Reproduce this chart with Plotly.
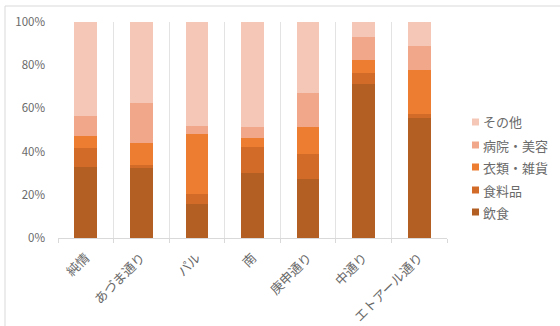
import plotly.graph_objects as go

categories = ["純情", "あづま通り", "パル", "南", "庚申通り", "中通り", "エトアール通り"]
series_names = ["飲食", "食料品", "衣類・雑貨", "病院・美容", "その他"]
inshoku = [32.9, 32.4, 15.6, 30.1, 27.2, 71.2, 55.7]
shokuryohin = [8.8, 1.3, 5.0, 11.9, 11.7, 5.2, 1.7]
irui = [5.4, 10.5, 27.4, 4.5, 12.5, 6.2, 20.4]
byoin = [9.2, 18.2, 4.0, 5.1, 15.9, 10.5, 11.1]
sonota = [43.7, 37.6, 48.0, 48.4, 32.7, 6.9, 11.1]
values = [inshoku, shokuryohin, irui, byoin, sonota]
colors = ["#B35E22", "#D26B28", "#ED7D31", "#F1A88A", "#F4C7B7"]
y_ticks = [0, 20, 40, 60, 80, 100]
y_tick_labels = ["0%", "20%", "40%", "60%", "80%", "100%"]

font_family = "Noto Sans CJK JP, Noto Sans, sans-serif"
gray = "#6a6a6a"

fig = go.Figure()
for name, vals, col in zip(series_names, values, colors):
    fig.add_trace(go.Bar(x=categories, y=vals, name=name, marker=dict(color=col, line=dict(width=0)),
                         showlegend=False))

W, H = 560, 326
l, r, t, b = 58, 113, 22, 88
pw, ph = W - l - r, H - t - b
def px_x(px):
    return (px - l) / pw
def px_y(py):
    return (H - b - py) / ph

# manual legend (top row is the last series)
shapes = [dict(type="rect", xref="paper", yref="paper",
               x0=px_x(5), x1=px_x(600), y0=px_y(340), y1=px_y(6),
               line=dict(color="#D9D9D9", width=1), fillcolor="rgba(0,0,0,0)", layer="below")]
annotations = []
row_y = [212, 190, 167, 145, 122]
for name, col, yc in zip(series_names, colors, row_y):
    shapes.append(dict(type="rect", xref="paper", yref="paper",
                       x0=px_x(472), x1=px_x(479), y0=px_y(yc + 3.5), y1=px_y(yc - 3.5),
                       line=dict(width=0), fillcolor=col))
    annotations.append(dict(xref="paper", yref="paper", x=px_x(481), y=px_y(yc),
                            xanchor="left", yanchor="middle", text=name, showarrow=False,
                            font=dict(size=13, color=gray, family=font_family)))

fig.update_layout(
    width=W, height=H,
    margin=dict(l=l, r=r, t=t, b=b, autoexpand=False),
    barmode="stack",
    bargap=0.59,
    showlegend=False,
    plot_bgcolor="white", paper_bgcolor="white",
    font=dict(family=font_family, size=11, color=gray),
    xaxis=dict(type="category", tickson="boundaries", showgrid=True, gridcolor="#E3E3E3", gridwidth=1,
               showline=True, linecolor="#D9D9D9", ticks="outside", ticklen=4, tickcolor="#D9D9D9",
               tickangle=-45, tickfont=dict(size=13, color=gray), ticklabelstandoff=6, fixedrange=True),
    yaxis=dict(range=[0, 100], tickvals=y_ticks, ticktext=y_tick_labels, showgrid=False,
               zeroline=False, showline=False, tickfont=dict(size=11.5, color=gray), ticks="",
               ticklabelstandoff=12),
    shapes=shapes,
    annotations=annotations,
)

fig.write_html("out.html")
